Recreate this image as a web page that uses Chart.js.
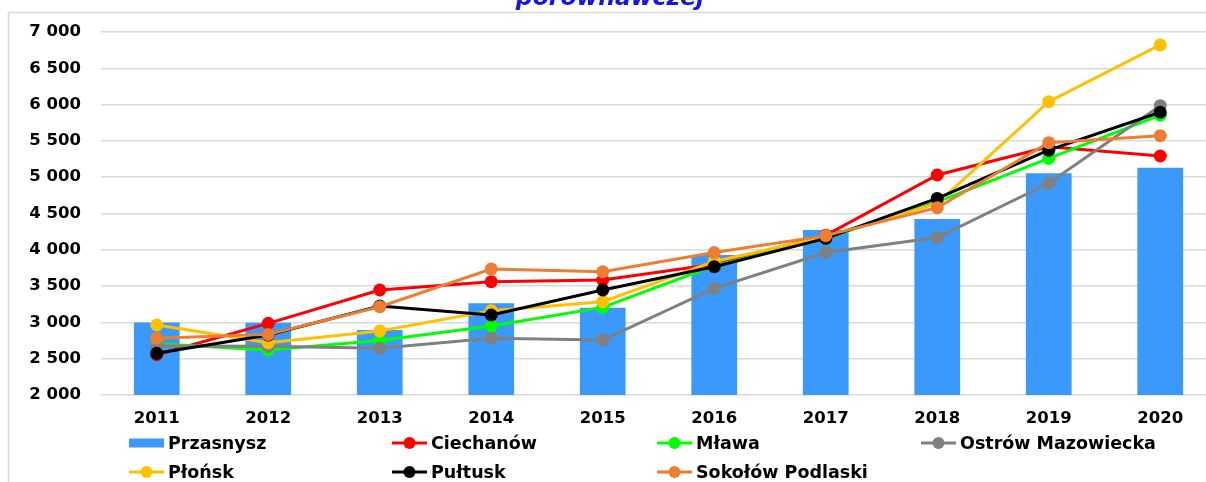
<!DOCTYPE html>
<html>
<head>
<meta charset="utf-8">
<script src="https://cdn.jsdelivr.net/npm/chart.js@4.4.1/dist/chart.umd.min.js"></script>
<style>
  html, body { margin: 0; padding: 0; background: #ffffff; overflow: hidden; }
  #wrap { position: absolute; left: 0; top: 0; width: 1240px; height: 482px; }
</style>
</head>
<body>
<div id="wrap"><canvas id="chart" width="1240" height="482"></canvas></div>
<script>
// Years on the category axis
const years = ['2011', '2012', '2013', '2014', '2015', '2016', '2017', '2018', '2019', '2020'];

// Values per town
const przasnysz   = [3000, 2995, 2895, 3263, 3202, 3928, 4273, 4424, 5054, 5131];
const ciechanow   = [2555, 2987, 3446, 3561, 3584, 3800, 4200, 5030, 5420, 5292];
const mlawa       = [2705, 2620, 2750, 2950, 3207, 3780, 4160, 4660, 5258, 5855];
const ostrowMaz   = [2675, 2670, 2643, 2780, 2757, 3468, 3963, 4168, 4917, 5985];
const plonsk      = [2964, 2720, 2882, 3162, 3285, 3840, 4180, 4640, 6040, 6822];
const pultusk     = [2574, 2826, 3226, 3102, 3446, 3767, 4158, 4708, 5372, 5895];
const sokolowPodl = [2780, 2835, 3216, 3735, 3698, 3963, 4195, 4580, 5475, 5572];

// Value axis range and step
const yMin = 2000;
const yMax = 7000;
const yStep = 500;

const titleText = 'porównawczej';

const FONT = '"DejaVu Sans", "Liberation Sans", Arial, sans-serif';

function lineSet(label, data, color, order) {
  return {
    type: 'line',
    label: label,
    data: data,
    borderColor: color,
    backgroundColor: color,
    borderWidth: 3,
    pointRadius: 6.5,
    pointHoverRadius: 6.5,
    pointBackgroundColor: color,
    pointBorderWidth: 0,
    tension: 0,
    fill: false,
    order: order
  };
}

// Light frame around the plot region
const framePlugin = {
  id: 'frame',
  beforeDraw(chart) {
    const ctx = chart.ctx;
    ctx.save();
    ctx.strokeStyle = '#d9d9d9';
    ctx.lineWidth = 1.5;
    ctx.beginPath();
    ctx.moveTo(8.5, chart.height);
    ctx.lineTo(8.5, 12.5);
    ctx.lineTo(chart.width, 12.5);
    ctx.stroke();
    ctx.restore();
  }
};

// Title line sitting above the frame
const titlePlugin = {
  id: 'topTitle',
  afterDraw(chart) {
    const ctx = chart.ctx;
    ctx.save();
    ctx.font = 'italic bold 23.5px ' + FONT;
    ctx.fillStyle = '#1414e6';
    ctx.textAlign = 'center';
    ctx.textBaseline = 'alphabetic';
    ctx.fillText(titleText, 610, 5);
    ctx.restore();
  }
};

// Two-row legend in fixed columns
const legendPlugin = {
  id: 'gridLegend',
  afterDraw(chart) {
    const ctx = chart.ctx;
    const cols = [129, 392, 657, 921];
    const rows = [443, 472];
    const markW = 35;
    ctx.save();
    ctx.font = 'bold 17.5px ' + FONT;
    ctx.textBaseline = 'middle';
    ctx.textAlign = 'left';
    chart.data.datasets.forEach((ds, i) => {
      const x = cols[i % 4];
      const y = rows[Math.floor(i / 4)];
      const color = ds.borderColor || ds.backgroundColor;
      if (ds.type === 'line') {
        ctx.strokeStyle = color;
        ctx.lineWidth = 3;
        ctx.beginPath();
        ctx.moveTo(x, y);
        ctx.lineTo(x + markW, y);
        ctx.stroke();
        ctx.fillStyle = color;
        ctx.beginPath();
        ctx.arc(x + markW / 2, y, 6, 0, Math.PI * 2);
        ctx.fill();
      } else {
        ctx.fillStyle = ds.backgroundColor;
        ctx.fillRect(x, y - 4.5, markW, 9);
      }
      ctx.fillStyle = '#000000';
      ctx.fillText(ds.label, x + markW + 4, y + 1);
    });
    ctx.restore();
  }
};

new Chart(document.getElementById('chart'), {
  type: 'bar',
  data: {
    labels: years,
    datasets: [
      {
        type: 'bar',
        label: 'Przasnysz',
        data: przasnysz,
        backgroundColor: '#3999fd',
        borderWidth: 0,
        categoryPercentage: 1.0,
        barPercentage: 0.41,
        order: 10
      },
      lineSet('Ciechanów', ciechanow, '#ff0000', 6),
      lineSet('Mława', mlawa, '#00ff00', 5),
      lineSet('Ostrów Mazowiecka', ostrowMaz, '#808080', 4),
      lineSet('Płońsk', plonsk, '#ffc000', 3),
      lineSet('Pułtusk', pultusk, '#000000', 2),
      lineSet('Sokołów Podlaski', sokolowPodl, '#ed7d31', 1)
    ]
  },
  options: {
    responsive: false,
    animation: false,
    layout: { padding: { top: 32, right: 24, bottom: 47, left: 0 } },
    plugins: {
      legend: { display: false },
      title: { display: false },
      tooltip: { enabled: false }
    },
    scales: {
      x: {
        grid: { display: false },
        border: { display: false },
        ticks: {
          color: '#000000',
          font: { family: FONT, weight: 'bold', size: 16.5 },
          padding: 6,
          maxRotation: 0
        },
        afterFit(scale) { scale.height = 40; }
      },
      y: {
        min: yMin,
        max: yMax,
        grid: { color: '#d9d9d9', lineWidth: 1.5, drawTicks: false },
        border: { display: false },
        ticks: {
          stepSize: yStep,
          color: '#000000',
          font: { family: FONT, weight: 'bold', size: 16.5 },
          padding: 20,
          callback: (v) => String(v).replace(/\B(?=(\d{3})+(?!\d))/g, ' ')
        },
        afterFit(scale) { scale.width = 101; }
      }
    }
  },
  plugins: [framePlugin, titlePlugin, legendPlugin]
});
</script>
</body>
</html>
